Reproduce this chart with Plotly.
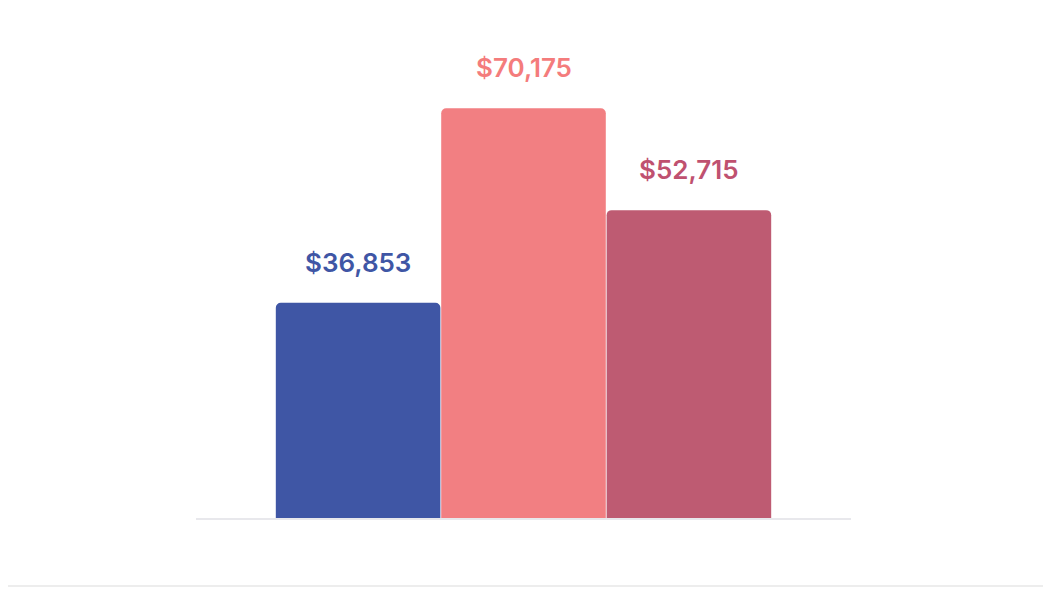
import plotly.graph_objects as go

categories = ["A", "B", "C"]
values = [36853, 70175, 52715]
labels = ["$36,853", "$70,175", "$52,715"]
bar_colors = ["#3F56A5", "#F27F82", "#BE5B72"]
label_colors = ["#3F56A5", "#F47C7C", "#BF5170"]

fig = go.Figure()
fig.add_trace(go.Bar(
    x=categories, y=values,
    marker=dict(color=bar_colors, line=dict(width=0)),
    width=0.995,
    hoverinfo="skip",
))

for c, v, t, col in zip(categories, values, labels, label_colors):
    fig.add_annotation(
        x=c, y=v, text=t, showarrow=False, yanchor="bottom", yshift=23,
        font=dict(family="Inter, Roboto, sans-serif", size=26, color=col, weight=600),
    )

# page edge lines
fig.add_shape(type="line", xref="paper", yref="paper", x0=-0.4, x1=1.4, y0=-0.142, y1=-0.142,
              line=dict(color="#EDEDED", width=2), layer="below")
fig.add_shape(type="line", xref="paper", yref="paper", x0=1.302, x1=1.302, y0=-0.2, y1=1.2,
              line=dict(color="#F2F2F2", width=2), layer="below")

fig.update_layout(
    width=1051, height=589,
    margin=dict(l=188, r=208, t=32, b=79),
    paper_bgcolor="white", plot_bgcolor="white",
    barcornerradius=5,
    showlegend=False,
    xaxis=dict(range=[-0.98, 2.98], showticklabels=False, showgrid=False, zeroline=False,
               showline=True, linecolor="#E8E8EC", linewidth=2),
    yaxis=dict(range=[0, 81850], visible=False, showgrid=False, zeroline=False),
)

fig.write_html("out.html")
